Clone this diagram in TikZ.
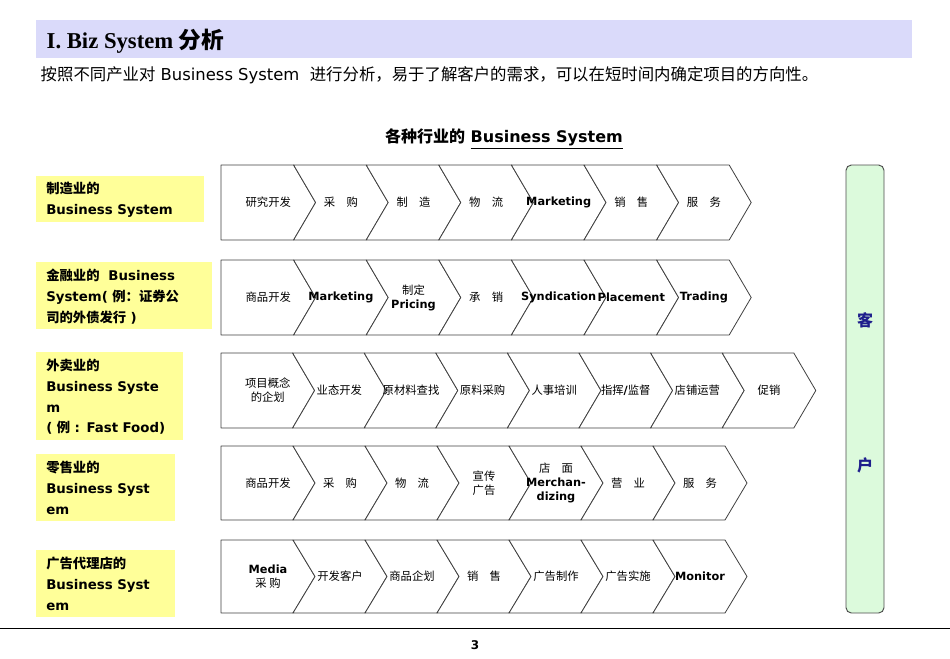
\documentclass[tikz,border=0pt]{standalone}
\usepackage{fontspec}
\setmainfont{DejaVu Sans}
\newfontfamily\cjk{Noto Sans CJK SC}
\newfontfamily\titlefont{Liberation Serif}
\newcommand{\zh}[1]{{\cjk #1}}
\definecolor{barblue}{RGB}{218,218,250}
\definecolor{labyellow}{RGB}{255,255,153}
\definecolor{custgreen}{RGB}{220,250,220}
\definecolor{custblue}{RGB}{30,30,140}
\tikzset{
  seg/.style={draw=black!75, fill=white, line width=0.6pt, line join=round},
  segtext/.style={font=\fontsize{8.5}{10.5}\selectfont, align=center, inner sep=0pt},
  rowlabel/.style={fill=labyellow, anchor=north west, align=left, text width=#1,
    font=\bfseries\fontsize{10}{15.5}\selectfont, inner sep=0pt, minimum height=0pt},
}
% one row of chevrons: top, bottom, step, name, list of labels
\newcommand{\chevrow}[5]{%
  \pgfmathsetmacro\ym{(#1+#2)/2}
  \foreach \t [count=\i from 0] in {#5} {
    \pgfmathsetmacro\xa{221+\i*#3}
    \pgfmathsetmacro\xb{\xa+#3}
    \pgfmathsetmacro\nt{\i==0?0:22}
    \draw[seg] (\xa,#1) -- (\xb,#1) -- (\xb+22,\ym) -- (\xb,#2) -- (\xa,#2) -- (\xa+\nt,\ym) -- cycle;
    \node[segtext] (#4-\i) at (\xa+#3/2+11,\ym) {\t};
  }
}
\begin{document}
\begin{tikzpicture}[x=0.75pt, y=-0.75pt]
  \useasboundingbox (0,0) rectangle (950,658);
  % title
  \fill[barblue] (36,20) rectangle (912,58);
  \node[anchor=west, font=\titlefont\bfseries\fontsize{17}{20}\selectfont] (title) at (42,41) {I. Biz System \zh{分析}};
  \node[anchor=west, font=\fontsize{12.3}{14}\selectfont] (sub) at (36,75)
    {\zh{按照不同产业对} Business System \ \zh{进行分析，易于了解客户的需求，可以在短时间内确定项目的方向性。}};
  \node[font=\bfseries\fontsize{12}{14}\selectfont] (head) at (504,139) {\zh{各种行业的} \underline{Business System}};
  % row labels
  \node[rowlabel=126pt] (l1) at (36,176)
    {\rule{0pt}{13pt}\hspace*{7.5pt}\zh{制造业的}\\\hspace*{7.5pt}Business System\rule[-6pt]{0pt}{6pt}};
  \node[rowlabel=132pt] (l2) at (36,262)
    {\rule{0pt}{14pt}\hspace*{7.5pt}\zh{金融业的} \ Business\\\hspace*{7.5pt}System( \zh{例：证券公}\\\hspace*{7.5pt}\zh{司的外债发行} )\rule[-5pt]{0pt}{5pt}};
  \node[rowlabel=110pt] (l3) at (36,352)
    {\rule{0pt}{14pt}\hspace*{7.5pt}\zh{外卖业的}\\\hspace*{7.5pt}Business Syste\\\hspace*{7.5pt}m\\\hspace*{7.5pt}( \zh{例} : Fast Food)\rule[-5pt]{0pt}{5pt}};
  \node[rowlabel=104pt] (l4) at (36,454)
    {\rule{0pt}{14pt}\hspace*{7.5pt}\zh{零售业的}\\\hspace*{7.5pt}Business Syst\\\hspace*{7.5pt}em\rule[-5pt]{0pt}{5pt}};
  \node[rowlabel=104pt] (l5) at (36,550)
    {\rule{0pt}{14pt}\hspace*{7.5pt}\zh{广告代理店的}\\\hspace*{7.5pt}Business Syst\\\hspace*{7.5pt}em\rule[-5pt]{0pt}{5pt}};
  % chevron rows
  \chevrow{165}{240}{72.6}{r1}{\zh{研究开发},\zh{采\quad 购},\zh{制\quad 造},\zh{物\quad 流},\textbf{Marketing},\zh{销\quad 售},\zh{服\quad 务}}
  \chevrow{260}{335}{72.6}{r2}{\zh{商品开发},\textbf{Marketing},{\zh{制定}\\\textbf{Pricing}},\zh{承\quad 销},\textbf{Syndication},\textbf{Placement},\textbf{Trading}}
  \chevrow{353}{428}{71.6}{r3}{{\zh{项目概念}\\\zh{的企划}},\zh{业态开发},\zh{原材料查找},\zh{原料采购},\zh{人事培训},\zh{指挥}\textbf{/}\zh{监督},\zh{店铺运营},\zh{促销}}
  \chevrow{446}{520}{72}{r4}{\zh{商品开发},\zh{采\quad 购},\zh{物\quad 流},{\zh{宣传}\\\zh{广告}},{\zh{店\quad 面}\\\textbf{Merchan-}\\\textbf{dizing}},\zh{营\quad 业},\zh{服\quad 务}}
  \chevrow{540}{613}{72}{r5}{{\textbf{Media}\\\zh{采\ 购}},\zh{开发客户},\zh{商品企划},\zh{销\quad 售},\zh{广告制作},\zh{广告实施},\textbf{Monitor}}
  % customer bar
  \draw[black!70, fill=custgreen, rounded corners=4pt, line width=0.7pt] (846,165) rectangle (884,613);
  \node[text=custblue, font=\cjk\bfseries\fontsize{12}{14}\selectfont] (k1) at (865,320) {客};
  \node[text=custblue, font=\cjk\bfseries\fontsize{12}{14}\selectfont] (k2) at (865,465) {户};
  % footer
  \draw[black, line width=0.6pt] (0,628) -- (950,628);
  \node[font=\bfseries\fontsize{9}{11}\selectfont] (page) at (475,645) {3};
\end{tikzpicture}
\end{document}
